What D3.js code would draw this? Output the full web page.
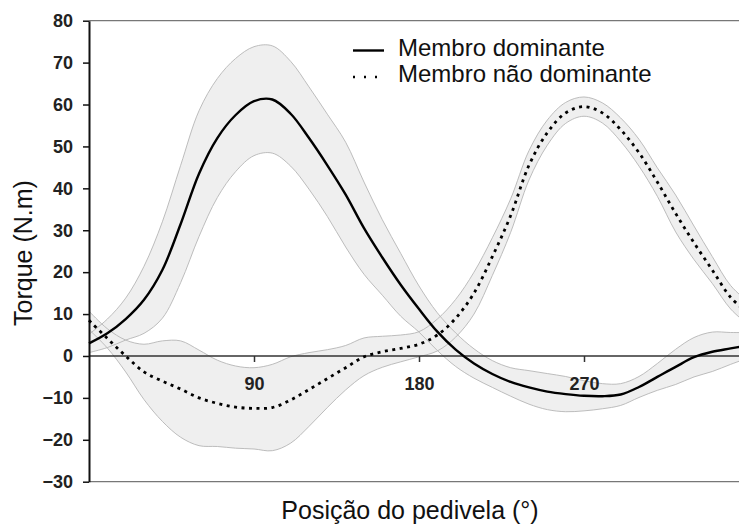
<!DOCTYPE html>
<html>
<head>
<meta charset="utf-8">
<script src="https://cdn.jsdelivr.net/npm/d3@7"></script>
<style>
  body { margin: 0; background: #fff; }
  svg { display: block; font-family: "Liberation Sans", Arial, sans-serif; }
</style>
</head>
<body>
<svg id="chart" width="739" height="526"></svg>
<script>
// crank position (deg)
var angles = [0,10,20,30,40,50,60,70,80,90,100,110,120,130,140,150,160,170,180,
              190,200,210,220,230,240,250,260,270,280,290,300,310,320,330,340,350,360];

// membro dominante: mean and sd
var domMean = [3.0,5.4,8.8,13.4,20.5,31.5,43.5,52,57.5,60.8,61.2,57.8,52,45.5,38.5,30.5,23.5,17,11.2,
               5.8,1.5,-1.8,-4.3,-6.2,-7.5,-8.5,-9.1,-9.5,-9.6,-9.2,-7.4,-5,-2.6,-0.3,1,1.8,2.6];
var domSd   = [2.2,3.4,5,8,11.5,14,15,14.2,13.5,13,12.8,12.5,12.2,12.2,12.5,11,9,7.5,5.5,
               4.5,4,3.5,3.2,3.4,4,4.3,4.2,3.6,3,2.6,2.5,3.2,4.2,4.7,4.7,3.8,3];

// membro nao dominante: mean and sd
var ndMean  = [8.5,4.2,0,-3.8,-6,-7.9,-10,-11.3,-12.2,-12.5,-12.3,-10.5,-8,-5.4,-2.8,-0.2,1.0,1.8,2.8,
               5,9,15,23.7,33.5,45.5,53.3,58,59.5,58,54,48.5,41.5,34,27,20.5,14,10];
var ndSd    = [2.2,2.3,3.8,6.6,9.6,11.5,11.4,10.3,9.8,9.7,10.3,10.3,8.8,6.9,5.3,4.5,3.7,3.2,3,
               3.8,4.5,5,4.5,4,3.5,3,2.5,2.3,2.4,2.8,3.2,3.4,4.4,4,3.2,2.8,2.7];

var yTicks = [-30,-20,-10,0,10,20,30,40,50,60,70,80];
var xTicks = [90,180,270];
var legendLabels = ["Membro dominante", "Membro não dominante"];

var W = 739, H = 526;
var svg = d3.select("#chart");

var x = d3.scaleLinear().domain([0, 360]).range([89, 749]);
var y = d3.scaleLinear().domain([-30, 80]).range([481.7, 20.7]);

function rows(mean, sd){
  return angles.map(function(a, i){ return {a: a, m: mean[i], s: sd[i]}; });
}
var dom = rows(domMean, domSd);
var nd = rows(ndMean, ndSd);

var curve = d3.curveCatmullRom.alpha(0.5);
var band = d3.area().curve(curve)
  .x(function(d){ return x(d.a); })
  .y0(function(d){ return y(d.m - d.s); })
  .y1(function(d){ return y(d.m + d.s); });
var upper = d3.line().curve(curve)
  .x(function(d){ return x(d.a); })
  .y(function(d){ return y(d.m + d.s); });
var lower = d3.line().curve(curve)
  .x(function(d){ return x(d.a); })
  .y(function(d){ return y(d.m - d.s); });
var mid = d3.line().curve(curve)
  .x(function(d){ return x(d.a); })
  .y(function(d){ return y(d.m); });

// bands
[dom, nd].forEach(function(s){
  svg.append("path").attr("d", band(s)).attr("fill", "#efefef").attr("stroke", "none");
});
[dom, nd].forEach(function(s){
  svg.append("path").attr("d", upper(s)).attr("fill", "none").attr("stroke", "#b5b5b5").attr("stroke-width", 0.9);
  svg.append("path").attr("d", lower(s)).attr("fill", "none").attr("stroke", "#b5b5b5").attr("stroke-width", 0.9);
});

// frame top / bottom
svg.append("line").attr("x1", 89).attr("x2", W).attr("y1", y(80)).attr("y2", y(80))
  .attr("stroke", "#777").attr("stroke-width", 1.3);
svg.append("line").attr("x1", 89).attr("x2", W).attr("y1", y(-30)).attr("y2", y(-30))
  .attr("stroke", "#777").attr("stroke-width", 1.3);

// zero line with ticks
svg.append("line").attr("x1", 89).attr("x2", W).attr("y1", y(0)).attr("y2", y(0))
  .attr("stroke", "#333").attr("stroke-width", 1.5);
var xAxis = svg.append("g").attr("transform", "translate(0," + y(0) + ")")
  .call(d3.axisBottom(x).tickValues(xTicks).tickSize(6).tickPadding(15).tickFormat(d3.format("d")));
xAxis.select(".domain").remove();
xAxis.selectAll(".tick line").attr("stroke", "#333").attr("stroke-width", 1.5);
xAxis.selectAll("text").attr("font-size", 18).attr("font-weight", "bold").attr("fill", "#222")
  .attr("font-family", "Liberation Sans, Arial, sans-serif");

// y axis
var yAxis = svg.append("g").attr("transform", "translate(89,0)")
  .call(d3.axisLeft(y).tickValues(yTicks).tickSize(6).tickPadding(10).tickSizeOuter(0));
yAxis.select(".domain").attr("stroke", "#111").attr("stroke-width", 2);
yAxis.selectAll(".tick line").attr("stroke", "#111").attr("stroke-width", 1.5);
yAxis.selectAll("text").attr("font-size", 18).attr("font-weight", "bold").attr("fill", "#222")
  .attr("font-family", "Liberation Sans, Arial, sans-serif");

// mean lines
svg.append("path").attr("d", mid(dom)).attr("fill", "none")
  .attr("stroke", "#000").attr("stroke-width", 2.4);
svg.append("path").attr("d", mid(nd)).attr("fill", "none")
  .attr("stroke", "#000").attr("stroke-width", 2.8).attr("stroke-dasharray", "3,4.5");

// legend
var lg = svg.append("g");
lg.append("line").attr("x1", 353).attr("x2", 384).attr("y1", 50.5).attr("y2", 50.5)
  .attr("stroke", "#000").attr("stroke-width", 2.4);
lg.append("line").attr("x1", 353).attr("x2", 384).attr("y1", 77).attr("y2", 77)
  .attr("stroke", "#000").attr("stroke-width", 2.4).attr("stroke-dasharray", "2,9");
lg.selectAll("text").data(legendLabels).enter().append("text")
  .attr("x", 398).attr("y", function(d, i){ return 56 + i * 26; })
  .attr("font-size", 24).attr("fill", "#111").text(function(d){ return d; });

// axis titles
svg.append("text").attr("x", 410).attr("y", 519).attr("text-anchor", "middle")
  .attr("font-size", 25).attr("fill", "#111").text("Posição do pedivela (°)");
svg.append("text").attr("transform", "translate(32,253) rotate(-90)").attr("text-anchor", "middle")
  .attr("font-size", 25).attr("fill", "#111").text("Torque (N.m)");
</script>
</body>
</html>
